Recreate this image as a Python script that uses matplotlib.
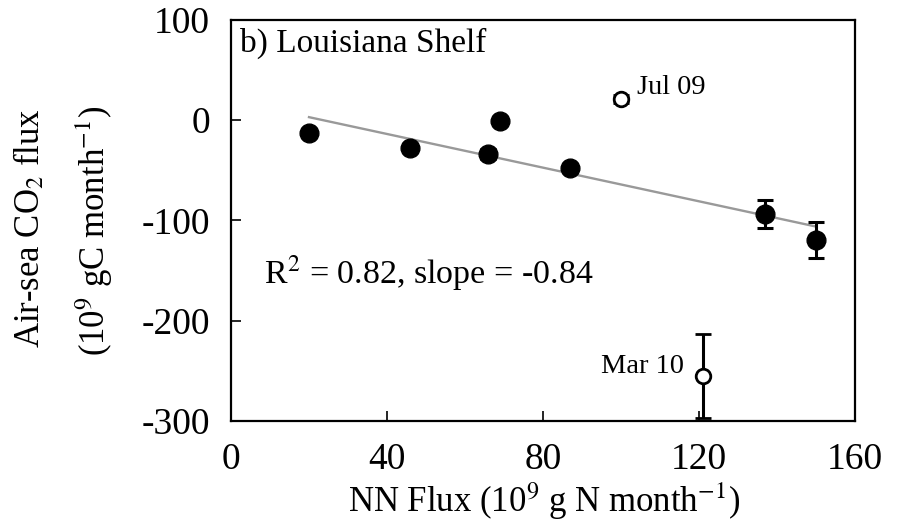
import matplotlib
matplotlib.use("Agg")
import matplotlib.pyplot as plt
import numpy as np

# Louisiana shelf: nitrate+nitrite flux vs air-sea CO2 flux
nn_flux = [20, 46, 66, 69, 87, 137, 150]
co2_flux = [-13, -28, -34, -1, -48, -94, -120]
co2_err = [0, 0, 5, 0, 0, 14, 18]

# outliers excluded from the fit (open symbols)
out_names = ["Jul 09", "Mar 10"]
out_nn = [100, 121]
out_co2 = [21, -255]
out_err = [4, 42]

FIT_SLOPE = -0.84
FIT_INTERCEPT = 19.8
FIT_RANGE = [20, 150]

plt.rcParams["font.family"] = ["Liberation Serif", "DejaVu Serif"]
plt.rcParams["mathtext.fontset"] = "stix"
plt.rcParams["axes.unicode_minus"] = False

fig = plt.figure(figsize=(9.02, 5.23), dpi=100)
ax = fig.add_axes([0.2561, 0.1956, 0.9479 - 0.2561, 0.9618 - 0.1956])

fit_x = np.array(FIT_RANGE, dtype=float)
ax.plot(fit_x, FIT_INTERCEPT + FIT_SLOPE * fit_x, color="#999999", lw=1.7, zorder=2)

ax.errorbar(nn_flux, co2_flux, yerr=co2_err, fmt="o", color="black", ms=13.5,
            elinewidth=2.2, capsize=6, capthick=2.2, zorder=3)
ax.errorbar(out_nn, out_co2, yerr=out_err, fmt="o", mfc="white", mec="black",
            mew=2, color="black", ms=10.5, elinewidth=2.2, capsize=6,
            capthick=2.2, zorder=3)

ax.text(out_nn[0] + 4, out_co2[0] + 5, out_names[0], fontsize=20.5, va="baseline", ha="left")
ax.text(out_nn[1] - 4.8, out_co2[1] + 3, out_names[1], fontsize=20.5, va="baseline", ha="right")

ax.text(0.014, 0.92, "b) Louisiana Shelf", transform=ax.transAxes, fontsize=24,
        va="baseline", ha="left")
ax.text(8.5, -164, "R$^2$ = 0.82, slope = -0.84", fontsize=24.5, va="baseline", ha="left")

ax.set_xlim(0, 160)
ax.set_ylim(-300, 100)
ax.set_xticks([0, 40, 80, 120, 160])
ax.set_yticks([100, 0, -100, -200, -300])
ax.tick_params(direction="in", length=7, width=1.2, labelsize=27, top=False, right=False)
ax.tick_params(axis="x", pad=16)
ax.tick_params(axis="y", pad=15)
for s in ax.spines.values():
    s.set_linewidth(1.6)

fig.text(544 / 902, 1 - 512 / 523, "NN Flux (10$^9$ g N month$^{-1}$)", fontsize=25,
         ha="center", va="baseline")
fig.text(30 / 902, 1 - 228 / 523, "Air-sea CO$_2$ flux", fontsize=25, rotation=90,
         ha="center", va="center")
fig.text(94 / 902, 1 - 231 / 523, "(10$^9$ gC month$^{-1}$)", fontsize=25, rotation=90,
         ha="center", va="center")

fig.savefig("out.png", dpi=100)
